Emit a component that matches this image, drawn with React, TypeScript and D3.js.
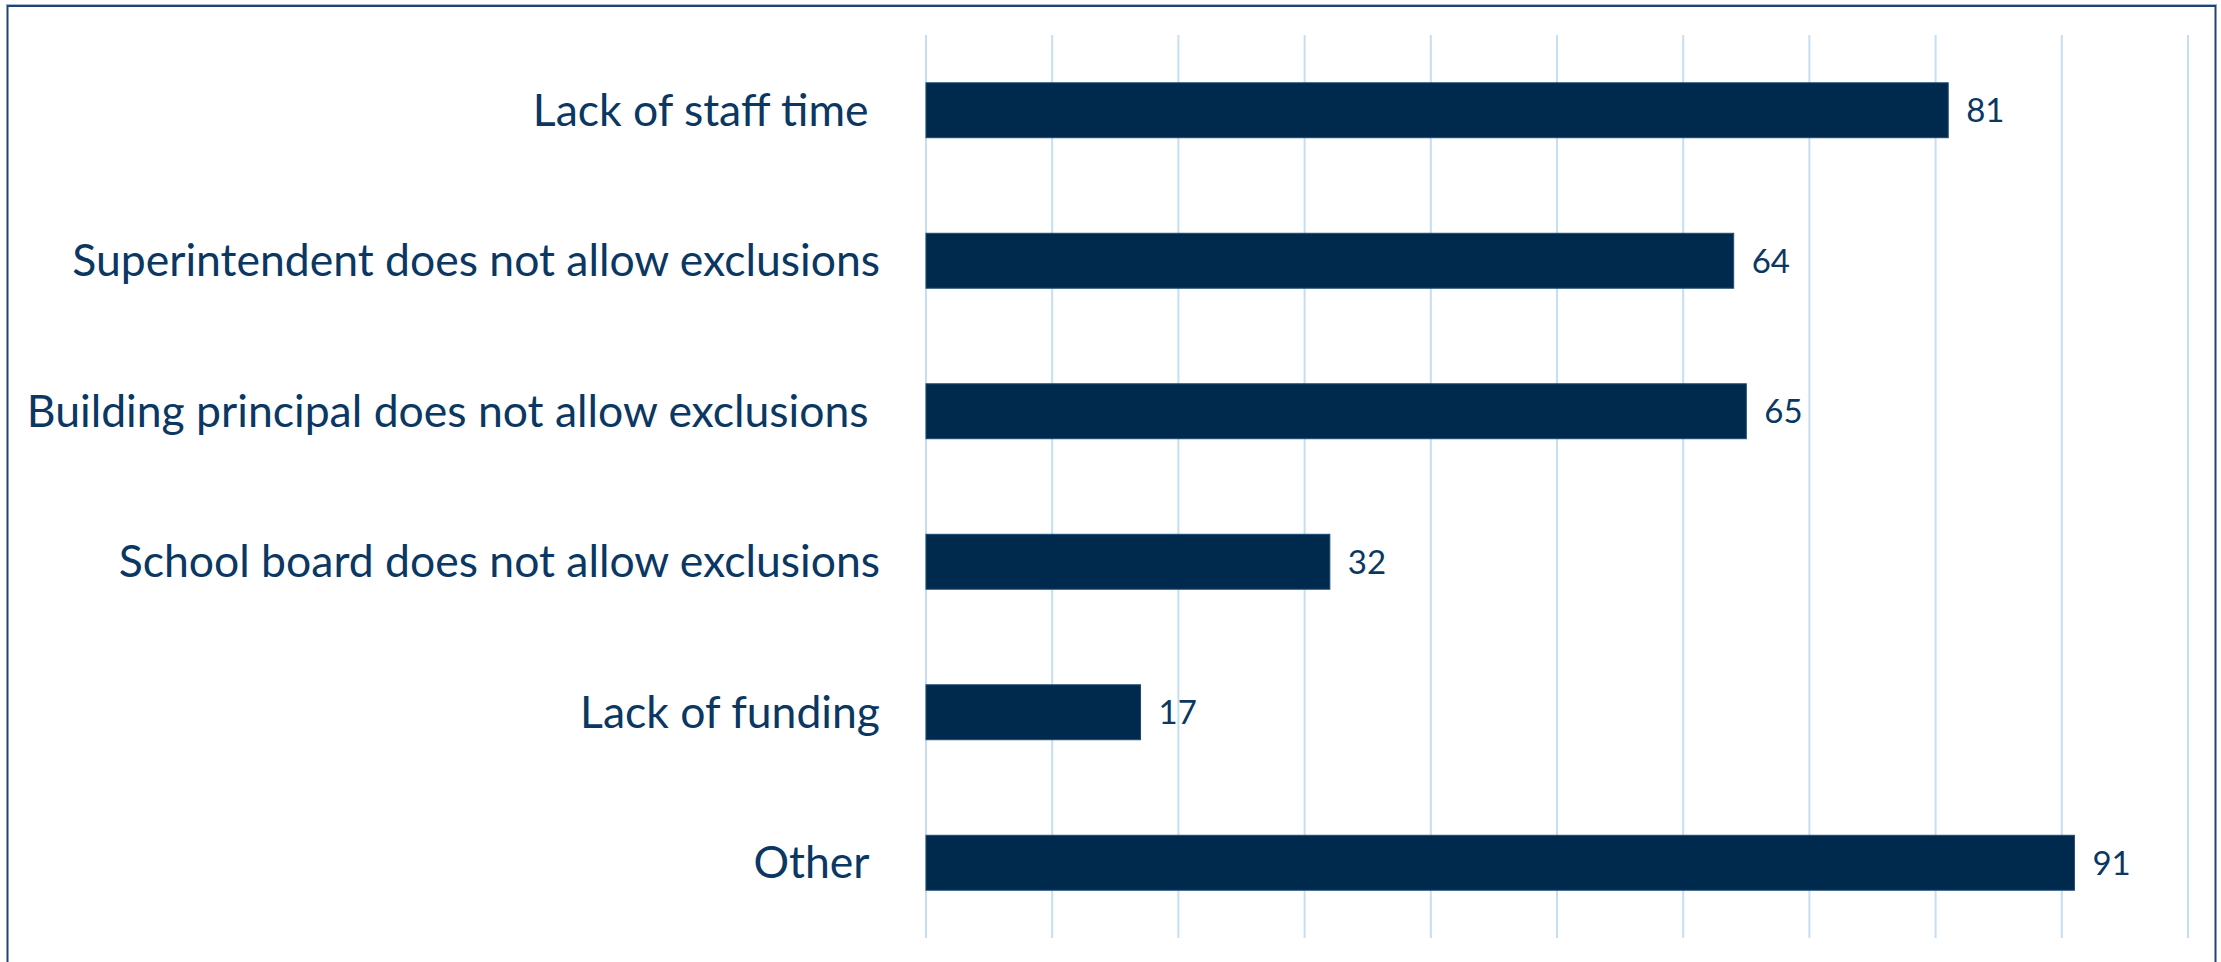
import React from "react";
import * as d3 from "d3";

const categories = [
  "Lack of staff time ",
  "Superintendent does not allow exclusions",
  "Building principal does not allow exclusions ",
  "School board does not allow exclusions",
  "Lack of funding",
  "Other ",
];
const values = [81, 64, 65, 32, 17, 91];
const xTicks = [0, 10, 20, 30, 40, 50, 60, 70, 80, 90, 100];

const W = 2221;
const H = 962;
const FONT = "Lato, 'Open Sans', sans-serif";
const TEXT = "#0b3763";
const BAR = "#002a4d";
const GRID = "#c4def4";

export default function App() {
  const x = d3.scaleLinear().domain([0, 100]).range([926, 2188]);
  const y = d3
    .scaleBand<string>()
    .domain(categories)
    .range([35, 938])
    .paddingInner(0.635)
    .paddingOuter(0.3175);
  const bw = y.bandwidth();
  const labelSize = 44.5;
  const valueSize = 33;
  return (
    <svg
      width={W}
      height={H}
      style={{ position: "absolute", left: 0, top: 0, background: "#fff" }}
      xmlSpace="preserve"
    >
      <rect x={0} y={0} width={W} height={H} fill="#fff" />
      {xTicks.map((t) => (
        <line
          key={t}
          x1={x(t)}
          x2={x(t)}
          y1={35}
          y2={938}
          stroke={GRID}
          strokeWidth={2}
        />
      ))}
      {categories.map((c, i) => {
        const cy = (y(c) as number) + bw / 2;
        return (
          <g key={c}>
            <rect
              x={x(0)}
              y={y(c)}
              width={x(values[i]) - x(0)}
              height={bw}
              fill={BAR}
              stroke="#1d4a74"
              strokeWidth={1}
            />
            <text
              x={880}
              y={cy + 15.3}
              textAnchor="end"
              fontFamily={FONT}
              fontSize={labelSize}
              fill={TEXT}
              style={{ whiteSpace: "pre" }}
            >
              {c}
            </text>
            <text
              x={x(values[i]) + 18}
              y={cy + valueSize * 0.72 / 2}
              fontFamily={FONT}
              fontSize={valueSize}
              fill={TEXT}
            >
              {values[i]}
            </text>
          </g>
        );
      })}
      <line x1={6} x2={2217} y1={4.5} y2={4.5} stroke="#a8b9cc" strokeWidth={1} />
      <rect
        x={7.5}
        y={6}
        width={2208}
        height={1000}
        fill="none"
        stroke="#1f4470"
        strokeWidth={2}
      />
    </svg>
  );
}
